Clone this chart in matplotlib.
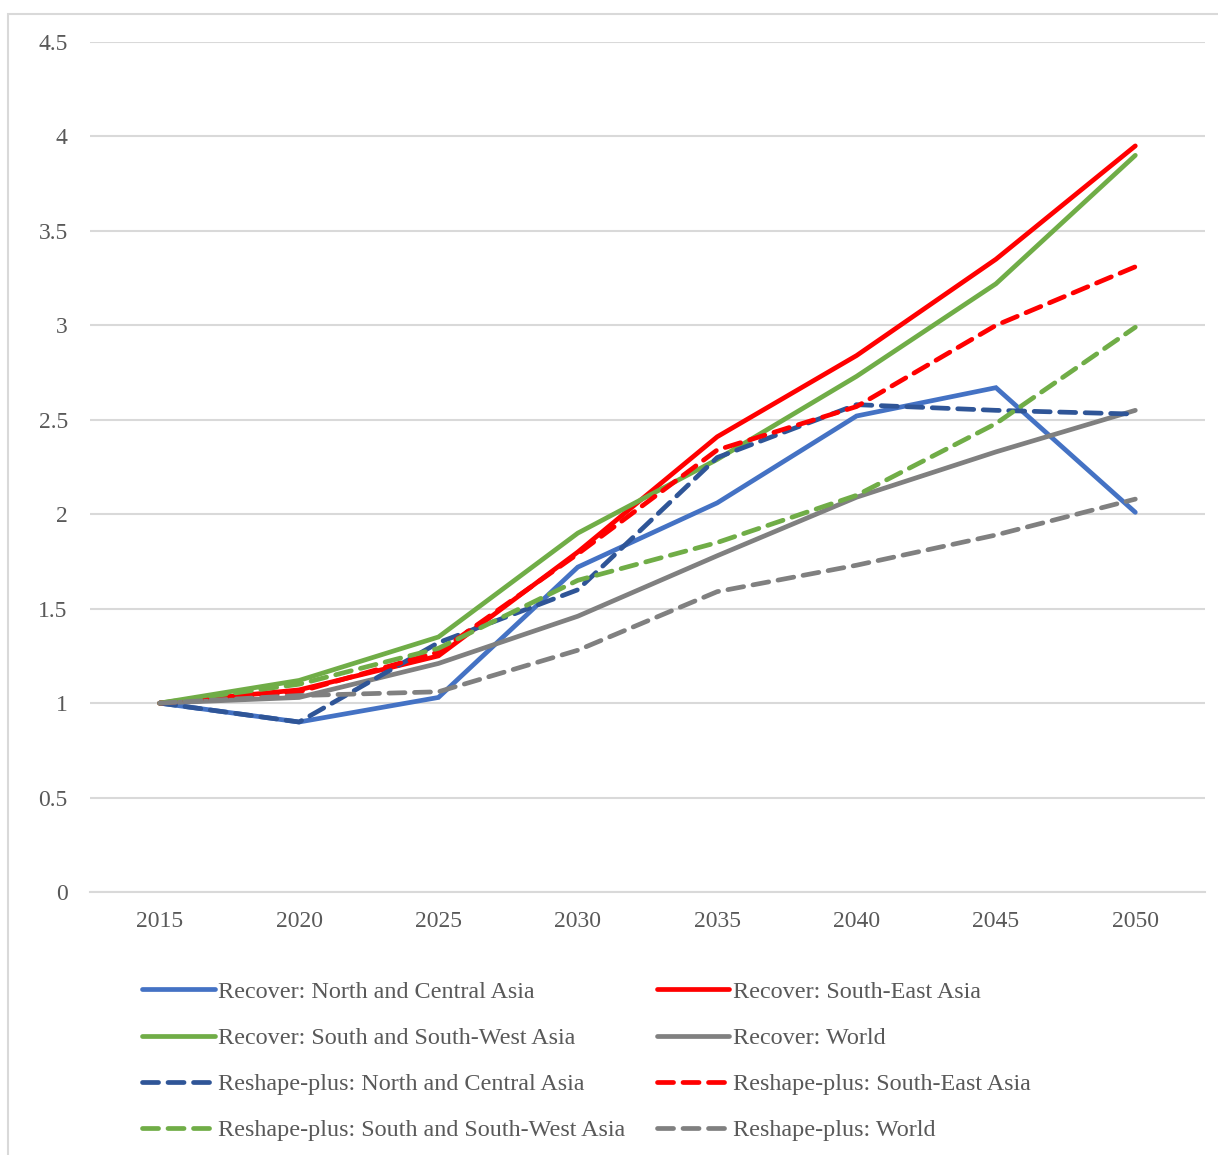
import matplotlib.pyplot as plt
from matplotlib.patches import Rectangle

years = ['2015', '2020', '2025', '2030', '2035', '2040', '2045', '2050']

recover_nca = [1, 0.90, 1.03, 1.72, 2.06, 2.52, 2.67, 2.01]
recover_sea = [1, 1.07, 1.25, 1.80, 2.41, 2.84, 3.35, 3.95]
recover_ssw = [1, 1.12, 1.35, 1.90, 2.29, 2.73, 3.22, 3.90]
recover_world = [1, 1.03, 1.21, 1.46, 1.78, 2.09, 2.33, 2.55]
reshape_nca = [1, 0.90, 1.32, 1.60, 2.30, 2.58, 2.55, 2.53]
reshape_sea = [1, 1.06, 1.27, 1.79, 2.34, 2.57, 3.00, 3.31]
reshape_ssw = [1, 1.10, 1.29, 1.65, 1.85, 2.10, 2.48, 2.99]
reshape_world = [1, 1.04, 1.06, 1.28, 1.59, 1.73, 1.89, 2.08]

series = [
    ('Recover: North and Central Asia', recover_nca, '#4472C4', '-'),
    ('Recover: South-East Asia', recover_sea, '#FF0000', '-'),
    ('Recover: South and South-West Asia', recover_ssw, '#70AD47', '-'),
    ('Recover: World', recover_world, '#808080', '-'),
    ('Reshape-plus: North and Central Asia', reshape_nca, '#2F5597', '--'),
    ('Reshape-plus: South-East Asia', reshape_sea, '#FF0000', '--'),
    ('Reshape-plus: South and South-West Asia', reshape_ssw, '#70AD47', '--'),
    ('Reshape-plus: World', reshape_world, '#808080', '--'),
]

plt.rcParams['font.family'] = ['Liberation Serif', 'DejaVu Serif']
txt = '#595959'

fig = plt.figure(figsize=(12.18, 11.55), dpi=100)
fig.patches.append(Rectangle((8/1218, -0.05), 1.2, 1 - 14/1155 + 0.05,
                             transform=fig.transFigure, fill=False,
                             edgecolor='#d9d9d9', lw=1.5))
ax = fig.add_axes([90/1218, 1 - 892/1155, 1115/1218, 850/1155])

x = list(range(len(years)))
handles = []
for name, vals, col, ls in series:
    if ls == '-':
        h, = ax.plot(x, vals, color=col, lw=3.4, solid_capstyle='round',
                     solid_joinstyle='miter', label=name)
    else:
        h, = ax.plot(x, vals, color=col, lw=3.4, dashes=(3.4, 2.0),
                     dash_capstyle='round', label=name)
    handles.append(h)

ax.set_xlim(-0.5, 7.5)
ax.set_ylim(0, 4.5)
ax.set_xticks(x)
ax.set_xticklabels(years)
ax.set_yticks([0, 0.5, 1, 1.5, 2, 2.5, 3, 3.5, 4, 4.5])
ax.set_yticklabels(['0', '0.5', '1', '1.5', '2', '2.5', '3', '3.5', '4', '4.5'])
ax.grid(axis='y', color='#d9d9d9', lw=1.5)
ax.set_axisbelow(True)
for s in ['top', 'right', 'left']:
    ax.spines[s].set_visible(False)
ax.spines['bottom'].set_color('#d9d9d9')
ax.spines['bottom'].set_linewidth(1.5)
ax.tick_params(axis='both', length=0, labelsize=17, labelcolor=txt)
ax.tick_params(axis='y', pad=16)
ax.tick_params(axis='x', pad=14)

order = [0, 2, 4, 6, 1, 3, 5, 7]
leg = fig.legend([handles[i] for i in order], [series[i][0] for i in order],
                 ncol=2, loc='upper left', bbox_to_anchor=(142/1218, 1 - 981/1155),
                 frameon=False, fontsize=17.4, handlelength=3.0, handletextpad=0.15,
                 columnspacing=1.3, labelspacing=1.0, borderaxespad=0, borderpad=0)
for t in leg.get_texts():
    t.set_color(txt)

fig.savefig('out.png', dpi=100)
